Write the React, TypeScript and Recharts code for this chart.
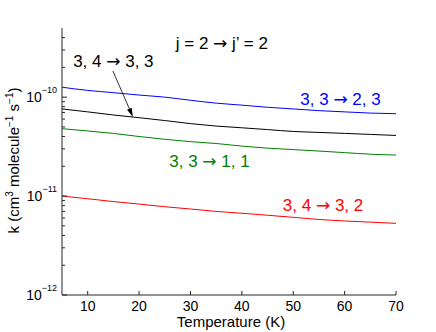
import React from 'react';
import { LineChart, Line, XAxis, YAxis, ReferenceDot, ReferenceLine } from 'recharts';

// rate coefficients, j = 2 -> j' = 2
const temperatures = [5, 10, 15, 20, 25, 30, 35, 40, 45, 50, 55, 60, 65, 70];
const k33to23 = [1.26e-10, 1.17e-10, 1.11e-10, 1.05e-10, 1.0e-10, 9.3e-11, 8.7e-11, 8.3e-11, 7.9e-11, 7.6e-11, 7.3e-11, 7.1e-11, 6.9e-11, 6.8e-11];
const k34to33 = [7.6e-11, 7.1e-11, 6.6e-11, 6.2e-11, 5.8e-11, 5.4e-11, 5.1e-11, 4.9e-11, 4.7e-11, 4.5e-11, 4.4e-11, 4.3e-11, 4.2e-11, 4.1e-11];
const k33to11 = [4.8e-11, 4.55e-11, 4.3e-11, 4.0e-11, 3.75e-11, 3.55e-11, 3.4e-11, 3.2e-11, 3.05e-11, 2.95e-11, 2.85e-11, 2.75e-11, 2.65e-11, 2.6e-11];
const k34to32 = [1.0e-11, 9.4e-12, 8.8e-12, 8.3e-12, 7.8e-12, 7.4e-12, 7.0e-12, 6.7e-12, 6.4e-12, 6.1e-12, 5.8e-12, 5.6e-12, 5.45e-12, 5.3e-12];

const xTicks = [10, 20, 30, 40, 50, 60, 70];
const yMajor = [1e-12, 1e-11, 1e-10];
const yMinor = [2e-12, 3e-12, 4e-12, 5e-12, 6e-12, 7e-12, 8e-12, 9e-12, 2e-11, 3e-11, 4e-11, 5e-11, 6e-11, 7e-11, 8e-11, 9e-11, 2e-10, 3e-10, 4e-10];
const yTicks = [...yMajor, ...yMinor].sort((a, b) => a - b);

const data = temperatures.map((T, i) => ({
  T,
  blue: k33to23[i],
  black: k34to33[i],
  green: k33to11[i],
  red: k34to32[i],
}));

// text annotations placed in data coordinates: [left part, right part] around the arrow
const notes = [
  { T: 36.1, k: 3.52e-10, left: 'j = 2', right: 'j\u2019 = 2', color: '#000' },
  { T: 15.0, k: 2.32e-10, left: '3, 4', right: '3, 3', color: '#000' },
  { T: 59.2, k: 9.6e-11, left: '3, 3', right: '2, 3', color: '#0000ff' },
  { T: 33.7, k: 2.26e-11, left: '3, 3', right: '1, 1', color: '#008000' },
  { T: 55.8, k: 8.1e-12, left: '3, 4', right: '3, 2', color: '#ff0000' },
];
const arrowFrom = { T: 14.9, k: 1.84e-10 };
const arrowTo = { T: 18.8, k: 6.3e-11 };

const FONT = '"Liberation Sans", Arial, Helvetica, sans-serif';
const AXIS = '#262626';

const isMajor = (v: number) => Math.abs(Math.log10(v) - Math.round(Math.log10(v))) < 1e-6;

const LeftTick = (p: any) => {
  const v = p.payload.value;
  const x0 = p.x + 3;
  const major = isMajor(v);
  return (
    <g>
      <line x1={x0} x2={x0 + (major ? 5 : 3)} y1={p.y} y2={p.y} stroke={AXIS} />
      {major && (
        <text x={x0 - 5} y={p.y + 5} textAnchor="end" fontFamily={FONT} fontSize={14} fill="#000">
          <tspan>10</tspan>
          <tspan fontSize={9} dy={-9}>{'\u2212' + Math.abs(Math.round(Math.log10(v)))}</tspan>
        </text>
      )}
    </g>
  );
};

const RightTick = (p: any) => {
  const major = isMajor(p.payload.value);
  return <line x1={p.x} x2={p.x - (major ? 5 : 3)} y1={p.y} y2={p.y} stroke={AXIS} />;
};

const BottomTick = (p: any) => (
  <g>
    <line x1={p.x} x2={p.x} y1={p.y} y2={p.y - 4} stroke={AXIS} />
    <text x={p.x} y={p.y + 16} textAnchor="middle" fontFamily={FONT} fontSize={14} fill="#000">
      {p.payload.value}
    </text>
  </g>
);

const TopTick = (p: any) => <line x1={p.x} x2={p.x} y1={p.y} y2={p.y + 4} stroke={AXIS} />;

const YLabel = (p: any) => {
  const vb = p.viewBox;
  const cx = vb.x + 19;
  const cy = vb.y + vb.height / 2 - 1;
  return (
    <text x={cx} y={cy} transform={`rotate(-90, ${cx}, ${cy})`} textAnchor="middle" fontFamily={FONT} fontSize={15} fill="#000">
      <tspan>k (cm</tspan>
      <tspan fontSize={10} dy={-6}>3</tspan>
      <tspan dy={6}> molecule</tspan>
      <tspan fontSize={10} dy={-6}>{'\u22121'}</tspan>
      <tspan dy={6}> s</tspan>
      <tspan fontSize={10} dy={-6}>{'\u22121'}</tspan>
      <tspan dy={6}>)</tspan>
    </text>
  );
};

const XLabel = (p: any) => {
  const vb = p.viewBox;
  return (
    <text x={vb.x + vb.width / 2 + 2} y={vb.y + 32} textAnchor="middle" fontFamily={FONT} fontSize={15} fill="#000">
      Temperature (K)
    </text>
  );
};

const noteLabel = (left: string, right: string, color: string) => (p: any) => {
  const vb = p.viewBox;
  return (
    <text x={vb.x + vb.width / 2} y={vb.y + vb.height / 2 + 6} textAnchor="middle" fontFamily={FONT} fontSize={17} fill={color}>
      <tspan>{left + ' '}</tspan>
      <tspan fontFamily='"DejaVu Sans", sans-serif' fontSize={17}>{'\u2192'}</tspan>
      <tspan>{' ' + right}</tspan>
    </text>
  );
};

const ArrowShape = (p: any) => {
  const { x1, y1, x2, y2 } = p;
  const ang = Math.atan2(y2 - y1, x2 - x1);
  const len = 9, half = 2.5;
  const bx = x2 - len * Math.cos(ang), by = y2 - len * Math.sin(ang);
  const px = -Math.sin(ang) * half, py = Math.cos(ang) * half;
  return (
    <g>
      <line x1={x1} y1={y1} x2={bx} y2={by} stroke="#000" strokeWidth={0.8} />
      <polygon points={`${x2},${y2} ${bx + px},${by + py} ${bx - px},${by - py}`} fill="#000" />
    </g>
  );
};

export default function App() {
  return (
    <div style={{ position: 'absolute', left: 0, top: 0, width: 436, height: 332, background: '#fff' }}>
      <LineChart width={436} height={332} data={data} margin={{ top: 28, right: 40, bottom: 0, left: 0 }}>
        <XAxis xAxisId="b" dataKey="T" type="number" domain={[5, 70]} ticks={xTicks} interval={0}
          height={37} tickSize={0} tickMargin={0} tickLine={false} tick={BottomTick}
          axisLine={{ stroke: AXIS }} label={{ content: XLabel }} allowDataOverflow />
        <XAxis xAxisId="t" orientation="top" type="number" domain={[5, 70]} ticks={xTicks} interval={0}
          height={0} tickSize={0} tickMargin={0} tickLine={false} tick={TopTick}
          axisLine={{ stroke: AXIS }} allowDataOverflow />
        <YAxis yAxisId="l" type="number" scale="log" domain={[1e-12, 5e-10]} ticks={yTicks} interval={0}
          width={62} tickSize={0} tickMargin={3} tickLine={false} tick={LeftTick}
          axisLine={{ stroke: AXIS }} label={{ content: YLabel }} allowDataOverflow />
        <YAxis yAxisId="r" orientation="right" type="number" scale="log" domain={[1e-12, 5e-10]} ticks={yTicks} interval={0}
          width={0} tickSize={0} tickMargin={0} tickLine={false} tick={RightTick}
          axisLine={{ stroke: AXIS }} allowDataOverflow />
        <Line xAxisId="b" yAxisId="l" dataKey="blue" type="monotone" stroke="#0000ff" strokeWidth={1} dot={false} isAnimationActive={false} />
        <Line xAxisId="b" yAxisId="l" dataKey="black" type="monotone" stroke="#000000" strokeWidth={1} dot={false} isAnimationActive={false} />
        <Line xAxisId="b" yAxisId="l" dataKey="green" type="monotone" stroke="#008000" strokeWidth={1} dot={false} isAnimationActive={false} />
        <Line xAxisId="b" yAxisId="l" dataKey="red" type="monotone" stroke="#ff0000" strokeWidth={1} dot={false} isAnimationActive={false} />
        <ReferenceLine xAxisId="b" yAxisId="l" segment={[{ x: arrowFrom.T, y: arrowFrom.k }, { x: arrowTo.T, y: arrowTo.k }]}
          shape={ArrowShape} />
        {notes.map((n, i) => (
          <ReferenceDot key={i} xAxisId="b" yAxisId="l" x={n.T} y={n.k} r={0} fill="none" stroke="none"
            label={{ content: noteLabel(n.left, n.right, n.color) }} />
        ))}
      </LineChart>
    </div>
  );
}
